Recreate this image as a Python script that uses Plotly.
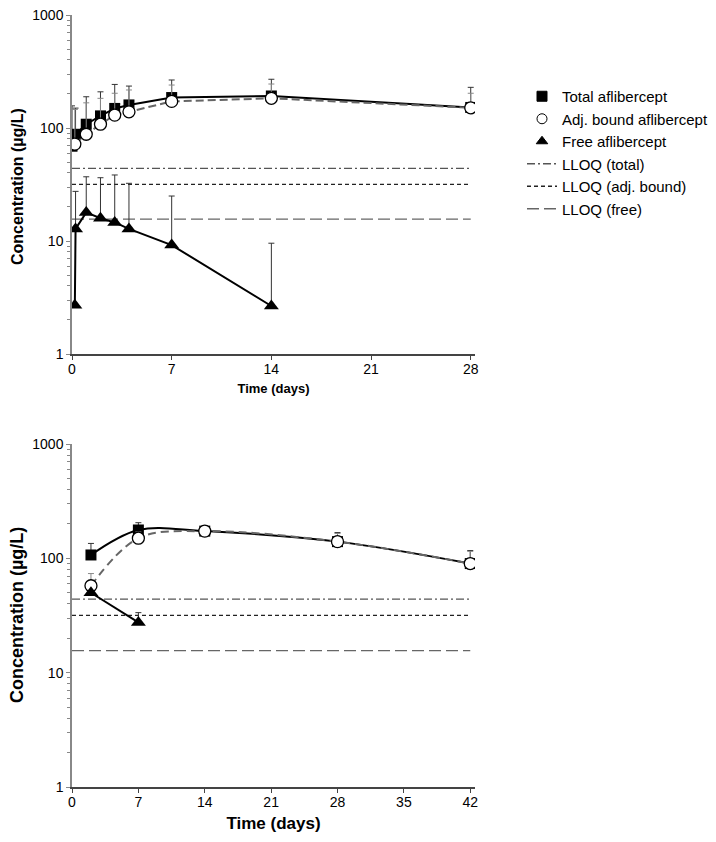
import plotly.graph_objects as go

# ---------------- data ----------------
# Top panel (days 0-28)
t_total_a = [0, 0.25, 1, 2, 3, 4, 7, 14, 28]
total_a = [69, 88, 108, 128, 149, 160, 186, 192, 152]
total_a_sd = [88, 62, 81, 81, 94, 75, 80, 78, 77]

t_adj_a = [0.2, 1, 2, 3, 4, 7, 14, 28]
adj_a = [72, 88, 108, 130, 139, 172, 183, 151]
adj_a_sd = [74, 79, 75, 73, 78, 68, 62, 52]

t_free_a = [0.2, 0.25, 1, 2, 3, 4, 7, 14]
free_a = [2.7, 12.8, 17.9, 15.9, 14.6, 12.8, 9.2, 2.66]
free_a_sd = [0, 14.7, 19.1, 20.4, 23.8, 19.6, 15.8, 6.9]

# Bottom panel (days 0-42)
t_b = [2, 7, 14, 28, 42]
total_b = [107, 177, 173, 140, 90]
total_b_sd = [28, 28, 19, 28, 27]
adj_b = [57.6, 150, 173, 140, 90]
adj_b_sd = [16, 20, 17, 25, 25]
t_free_b = [2, 7]
free_b = [50, 27.5]
free_b_sd = [0, 6]

# Lower limits of quantification
lloq_total = 44
lloq_adj = 31.7
lloq_free = 15.6

x_ticks_a = [0, 7, 14, 21, 28]
x_ticks_b = [0, 7, 14, 21, 28, 35, 42]
y_ticks = [1, 10, 100, 1000]

FONT = "Liberation Sans, Arial, sans-serif"
# page body has an 8px margin, so the figure is drawn 8px in from the window edge
OFF = 8
W, H = 716 - 2 * OFF, 842 - 2 * OFF

fig = go.Figure()


def err(sd, color):
    return dict(type="data", symmetric=False, array=sd, arrayminus=[0] * len(sd),
                thickness=1, width=3, color=color)


def add_lloq(xa, ya, xmax, legend):
    for val, name, dash, color in [
        (lloq_total, "LLOQ (total)", "8px,3px,2px,3px", "#555555"),
        (lloq_adj, "LLOQ (adj. bound)", "4px,3px", "#222222"),
        (lloq_free, "LLOQ (free)", "12px,5px", "#666666"),
    ]:
        fig.add_trace(go.Scatter(x=[0, xmax], y=[val, val], mode="lines",
                                 line=dict(color=color, width=1.3, dash=dash),
                                 name=name, showlegend=legend, xaxis=xa, yaxis=ya,
                                 hoverinfo="skip"))


SQ, CI, TR = 11, 12, 13

# ---- top panel ----
add_lloq("x", "y", 28, True)
fig.add_trace(go.Scatter(x=t_total_a, y=total_a, mode="lines+markers",
                         line=dict(color="black", width=2),
                         marker=dict(symbol="square", size=SQ, color="black"),
                         error_y=err(total_a_sd, "#333333"),
                         showlegend=False, xaxis="x", yaxis="y"))
fig.add_trace(go.Scatter(x=t_adj_a, y=adj_a, mode="lines+markers",
                         line=dict(color="#666666", width=2, dash="8px,4px"),
                         marker=dict(symbol="circle", size=CI, color="white",
                                     line=dict(color="black", width=1.3)),
                         error_y=err(adj_a_sd, "#888888"),
                         showlegend=False, xaxis="x", yaxis="y"))
fig.add_trace(go.Scatter(x=t_free_a, y=free_a, mode="lines+markers",
                         line=dict(color="black", width=2),
                         marker=dict(symbol="triangle-up", size=TR, color="black"),
                         error_y=err(free_a_sd, "#333333"),
                         showlegend=False, xaxis="x", yaxis="y"))

# ---- bottom panel ----
add_lloq("x2", "y2", 42, False)
fig.add_trace(go.Scatter(x=t_b, y=total_b, mode="lines+markers",
                         line=dict(color="black", width=2, shape="spline", smoothing=1),
                         marker=dict(symbol="square", size=SQ, color="black"),
                         error_y=err(total_b_sd, "#333333"),
                         showlegend=False, xaxis="x2", yaxis="y2"))
fig.add_trace(go.Scatter(x=t_b, y=adj_b, mode="lines+markers",
                         line=dict(color="#666666", width=2, dash="8px,5px",
                                   shape="spline", smoothing=1),
                         marker=dict(symbol="circle", size=CI, color="white",
                                     line=dict(color="black", width=1.3)),
                         error_y=err(adj_b_sd, "#888888"),
                         showlegend=False, xaxis="x2", yaxis="y2"))
fig.add_trace(go.Scatter(x=t_free_b, y=free_b, mode="lines+markers",
                         line=dict(color="black", width=2),
                         marker=dict(symbol="triangle-up", size=TR, color="black"),
                         error_y=err(free_b_sd, "#333333"),
                         showlegend=False, xaxis="x2", yaxis="y2"))

# ---- legend-only marker entries ----
for name, sym, col, lcol in [("Total aflibercept", "square", "black", "black"),
                             ("Adj. bound aflibercept", "circle", "white", "black"),
                             ("Free aflibercept", "triangle-up", "black", "black")]:
    fig.add_trace(go.Scatter(x=[None], y=[None], mode="markers", name=name,
                             marker=dict(symbol=sym, size=10, color=col,
                                         line=dict(color=lcol, width=1)),
                             xaxis="x", yaxis="y", legendrank=1))


def px_x(x):
    return (x - OFF) / W


def px_y(y):
    return (H - (y - OFF)) / H


xdom = [px_x(72), px_x(475)]


def xaxis(rng, ticks, title, tsize, dom_anchor, standoff):
    return dict(domain=xdom, range=rng, tickvals=ticks, ticks="outside", ticklen=4,
                tickcolor="#444444", showline=True, linecolor="#444444", linewidth=1.5,
                showgrid=False, zeroline=False, anchor=dom_anchor, automargin=False,
                ticklabelstandoff=-3, ticklabeloverflow="allow",
                tickfont=dict(family=FONT, size=14, color="black"),
                title=dict(text=title, font=dict(family=FONT, size=tsize, color="black"),
                           standoff=standoff))


def yaxis(dom, anchor):
    return dict(domain=dom, type="log", range=[0, 3], tickvals=y_ticks,
                ticktext=[str(v) for v in y_ticks], ticks="outside", ticklen=4,
                tickcolor="#888888", showline=True, linecolor="#888888", linewidth=1.5,
                showgrid=False, zeroline=False, anchor=anchor, automargin=False,
                ticklabeloverflow="allow",
                minor=dict(ticks="outside", ticklen=3, tickcolor="#888888", dtick="D1",
                           showgrid=False),
                tickfont=dict(family=FONT, size=14, color="black"))


ytitle = "<b>Concentration (µg/L)</b>"
annotations = [
    dict(text=ytitle, textangle=-90, x=px_x(17), y=px_y(187), xref="paper", yref="paper",
         xanchor="center", yanchor="middle", showarrow=False,
         font=dict(family=FONT, size=16, color="black")),
    dict(text=ytitle, textangle=-90, x=px_x(17), y=px_y(615), xref="paper", yref="paper",
         xanchor="center", yanchor="middle", showarrow=False,
         font=dict(family=FONT, size=18, color="black")),
]

fig.update_layout(
    width=W, height=H,
    margin=dict(l=0, r=0, t=0, b=0, autoexpand=False),
    paper_bgcolor="white", plot_bgcolor="white",
    font=dict(family=FONT, color="black"),
    xaxis=xaxis([0, 28.3], x_ticks_a, "<b>Time (days)</b>", 13, "y", 8),
    yaxis=yaxis([px_y(354), px_y(15)], "x"),
    xaxis2=xaxis([0, 42.5], x_ticks_b, "<b>Time (days)</b>", 17, "y2", 9),
    yaxis2=yaxis([px_y(787), px_y(444)], "x2"),
    annotations=annotations,
    legend=dict(x=px_x(522), y=px_y(80), xanchor="left", yanchor="top",
                font=dict(family=FONT, size=15, color="black"),
                tracegroupgap=0, bgcolor="rgba(0,0,0,0)", traceorder="normal"),
    showlegend=True,
    hovermode=False,
)

fig.write_html("out.html")
